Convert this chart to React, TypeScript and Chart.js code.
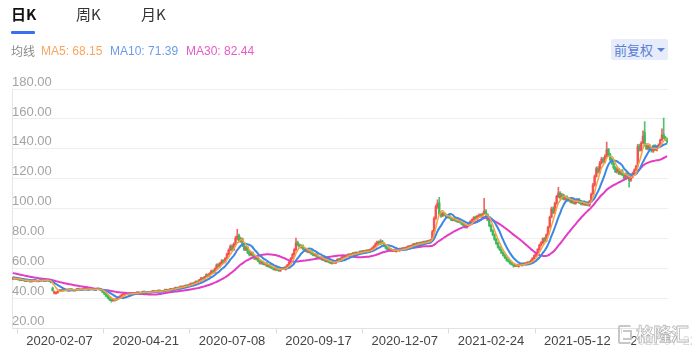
import { useEffect, useRef } from 'react';
import { Chart, registerables } from 'chart.js';

Chart.register(...registerables);

// ---- data ----
const priorCloses = [61.2, 60.6, 60.9, 60.2, 59.8, 60.1, 59.4, 58.8, 59.2, 58.6, 58.1, 58.4, 57.6, 57.2, 57.5, 56.8, 56.3, 56.6, 55.9, 55.4, 55.7, 55.1, 54.6, 54.9, 54.3, 53.8, 54.1, 53.5, 53.2];

const opens = [
  53.0, 53.7, 52.9, 53.3, 52.7, 52.1, 52.9, 52.1, 51.5, 52.5,
  51.8, 51.2, 51.5, 52.5, 52.0, 51.3, 51.9, 52.7, 52.1, 51.7,
  52.5, 52.1, 51.5, 47.0, 43.5, 43.2, 43.9, 44.9, 45.7, 45.1,
  45.9, 45.3, 46.1, 45.5, 46.3, 45.9, 45.1, 45.5, 46.5, 46.1,
  45.5, 46.1, 46.9, 46.5, 45.7, 46.1, 46.7, 46.1, 45.5, 46.1,
  46.7, 46.3, 45.3, 44.3, 43.1, 41.8, 40.6, 39.4, 38.5, 39.5,
  38.9, 39.7, 40.7, 41.5, 42.5, 42.7, 43.3, 42.7, 43.5, 42.9,
  43.7, 43.1, 43.7, 44.3, 43.5, 43.9, 44.7, 44.3, 43.7, 44.5,
  43.9, 44.5, 45.1, 44.3, 44.7, 45.5, 45.1, 44.5, 45.1, 45.9,
  45.3, 45.7, 46.5, 45.9, 46.5, 47.3, 46.7, 47.3, 48.1, 47.5,
  48.1, 48.9, 48.3, 49.1, 50.1, 49.5, 50.5, 51.5, 50.9, 52.3,
  53.7, 52.9, 54.3, 55.9, 55.0, 56.7, 58.5, 57.5, 59.6, 62.6,
  61.5, 63.5, 65.4, 64.2, 66.6, 69.4, 72.2, 75.0, 72.4, 76.2,
  80.0, 82.0, 78.2, 79.8, 75.4, 72.6, 74.2, 70.8, 69.0, 70.6,
  68.8, 66.2, 67.4, 65.2, 63.4, 64.6, 62.6, 63.6, 61.4, 62.4,
  60.9, 60.4, 59.2, 60.8, 59.2, 58.4, 59.6, 60.6, 59.4, 61.0,
  62.2, 64.0, 67.0, 69.2, 72.4, 77.4, 76.0, 74.2, 75.4, 73.2,
  71.6, 72.8, 70.6, 71.6, 69.8, 68.6, 69.6, 67.8, 66.6, 67.6,
  65.6, 66.6, 64.6, 65.6, 64.4, 63.4, 64.6, 63.6, 64.8, 66.4,
  65.4, 66.8, 68.6, 67.4, 68.6, 69.6, 68.4, 69.6, 70.6, 69.4,
  70.9, 70.0, 71.6, 70.4, 72.0, 70.8, 72.4, 71.2, 72.6, 73.4,
  74.6, 76.2, 78.0, 76.4, 78.4, 77.0, 75.4, 73.8, 72.2, 73.2,
  71.6, 72.6, 71.4, 73.0, 71.8, 73.4, 72.4, 74.0, 72.8, 74.0,
  75.2, 74.2, 75.4, 76.6, 75.6, 77.2, 76.0, 77.6, 76.6, 78.2,
  77.2, 78.6, 77.6, 79.4, 85.0, 93.6, 101.4, 104.0, 96.6, 95.2,
  96.9, 95.8, 94.0, 95.0, 93.8, 92.2, 93.4, 92.2, 91.2, 92.4,
  90.6, 89.8, 89.0, 87.4, 88.6, 90.0, 91.8, 92.6, 94.4, 93.2,
  94.8, 96.0, 94.4, 96.6, 98.6, 96.2, 92.6, 88.8, 85.4, 82.8,
  79.6, 77.0, 74.4, 72.8, 70.6, 69.0, 67.4, 65.8, 65.0, 63.6,
  62.6, 61.6, 62.6, 61.4, 63.0, 62.0, 63.6, 62.6, 63.4, 64.4,
  63.6, 65.2, 66.6, 68.4, 70.0, 72.6, 75.8, 77.0, 80.0, 78.4,
  82.6, 87.8, 94.4, 100.0, 97.2, 103.4, 108.0, 110.6, 107.0, 109.2,
  106.2, 108.0, 105.4, 107.0, 104.2, 106.0, 103.4, 104.6, 106.4, 104.2,
  103.0, 104.6, 102.6, 103.8, 102.2, 104.6, 109.8, 115.6, 121.6, 127.0,
  124.4, 130.6, 133.4, 131.4, 134.8, 139.6, 136.0, 133.0, 130.6, 127.4,
  124.6, 126.6, 123.4, 125.4, 122.6, 120.2, 123.4, 121.8, 119.0, 121.2,
  123.4, 126.0, 128.6, 141.8, 139.0, 144.0, 150.8, 142.6, 140.0, 142.0,
  140.2, 138.4, 142.0, 139.2, 141.0, 142.8, 146.0, 149.6, 147.6, 146.4,
];

const closes = [
  53.6, 53.0, 53.4, 52.6, 52.2, 52.8, 52.0, 51.6, 52.4, 51.8,
  51.2, 51.6, 52.4, 52.0, 51.4, 51.8, 52.6, 52.2, 51.8, 52.4,
  52.0, 51.6, 50.8, 45.2, 44.4, 43.8, 44.8, 45.6, 45.2, 45.8,
  45.4, 46.0, 45.6, 46.2, 45.8, 45.2, 45.6, 46.4, 46.0, 45.6,
  46.2, 46.8, 46.4, 45.8, 46.2, 46.6, 46.0, 45.6, 46.2, 46.8,
  46.2, 45.4, 44.2, 43.0, 41.6, 40.4, 39.2, 38.6, 39.4, 38.8,
  39.8, 40.8, 41.6, 42.4, 42.8, 43.2, 42.8, 43.4, 43.0, 43.6,
  43.2, 43.8, 44.2, 43.6, 44.0, 44.6, 44.2, 43.8, 44.4, 44.0,
  44.6, 45.0, 44.4, 44.8, 45.4, 45.0, 44.6, 45.2, 45.8, 45.4,
  45.8, 46.4, 46.0, 46.6, 47.2, 46.8, 47.4, 48.0, 47.6, 48.2,
  48.8, 48.4, 49.2, 50.0, 49.6, 50.6, 51.4, 51.0, 52.4, 53.6,
  53.0, 54.4, 55.8, 55.2, 56.8, 58.4, 57.6, 59.8, 62.4, 61.6,
  63.6, 65.2, 64.4, 66.8, 69.6, 72.4, 74.8, 72.6, 76.4, 80.2,
  81.8, 78.4, 79.6, 75.2, 72.8, 74.0, 70.6, 69.2, 70.4, 68.6,
  66.4, 67.2, 65.0, 63.6, 64.4, 62.8, 63.4, 61.6, 62.2, 60.8,
  60.2, 59.4, 60.6, 59.0, 58.6, 59.8, 60.4, 59.6, 61.2, 62.4,
  64.2, 66.8, 69.4, 72.6, 77.2, 75.8, 74.4, 75.2, 73.0, 71.8,
  72.6, 70.8, 71.4, 69.6, 68.8, 69.4, 67.6, 66.8, 67.4, 65.8,
  66.4, 64.8, 65.4, 64.2, 63.6, 64.4, 63.8, 65.0, 66.2, 65.6,
  67.0, 68.4, 67.6, 68.8, 69.4, 68.6, 69.8, 70.4, 69.6, 70.8,
  70.2, 71.4, 70.6, 71.8, 71.0, 72.2, 71.4, 72.8, 73.6, 74.8,
  76.4, 77.8, 76.6, 78.2, 76.8, 75.2, 73.6, 72.4, 73.0, 71.8,
  72.4, 71.6, 72.8, 72.0, 73.2, 72.6, 73.8, 73.0, 74.2, 75.0,
  74.4, 75.6, 76.4, 75.8, 77.0, 76.2, 77.4, 76.8, 78.0, 77.4,
  78.4, 77.8, 79.2, 84.6, 93.4, 101.2, 103.6, 96.4, 95.0, 96.8,
  95.6, 94.2, 94.8, 93.6, 92.4, 93.2, 92.0, 91.4, 92.2, 90.8,
  89.6, 88.8, 87.6, 88.4, 90.2, 91.6, 92.8, 94.2, 93.4, 95.0,
  95.8, 94.6, 96.4, 98.2, 96.0, 92.4, 88.6, 85.2, 82.6, 79.4,
  76.8, 74.2, 72.6, 70.4, 68.8, 67.2, 65.6, 64.8, 63.4, 62.8,
  61.8, 62.4, 61.6, 62.8, 62.2, 63.4, 62.8, 63.6, 64.2, 63.8,
  65.4, 66.8, 68.6, 70.2, 72.8, 75.6, 77.2, 79.8, 78.6, 82.4,
  87.6, 94.2, 99.8, 97.4, 103.6, 108.2, 110.4, 107.2, 109.0, 106.4,
  107.8, 105.6, 106.8, 104.4, 105.8, 103.6, 104.8, 106.2, 104.0, 103.2,
  104.4, 102.8, 103.6, 102.4, 104.8, 109.6, 115.8, 121.4, 126.8, 124.6,
  130.4, 133.2, 131.6, 135.0, 139.4, 136.2, 132.8, 130.4, 127.2, 124.8,
  126.4, 123.6, 125.2, 122.8, 120.4, 123.2, 121.6, 118.8, 121.4, 123.6,
  125.8, 128.4, 141.6, 139.2, 143.8, 148.6, 142.4, 140.2, 141.8, 139.6,
  138.6, 141.8, 139.4, 141.2, 142.6, 145.8, 149.2, 147.4, 146.2, 144.8,
];

const highs = [
  54.2, 53.9, 53.8, 53.5, 52.9, 53.2, 53.1, 52.3, 52.8, 52.7,
  52.0, 51.9, 52.8, 52.7, 52.2, 52.0, 53.0, 52.9, 52.3, 52.8,
  52.7, 52.3, 51.8, 47.6, 45.0, 44.4, 45.2, 46.0, 46.0, 46.2,
  46.2, 46.4, 46.4, 46.6, 46.6, 46.2, 45.9, 46.8, 46.9, 46.4,
  46.5, 47.2, 47.3, 46.7, 46.5, 47.0, 47.0, 46.4, 46.6, 47.2,
  47.0, 46.6, 45.6, 44.6, 43.4, 42.2, 40.9, 39.8, 39.8, 39.9,
  40.1, 41.2, 42.0, 42.8, 43.2, 43.6, 43.6, 43.7, 43.8, 43.9,
  44.0, 44.1, 44.5, 44.6, 44.3, 44.9, 45.0, 44.6, 44.7, 44.8,
  44.9, 45.4, 45.4, 45.1, 45.8, 45.8, 45.4, 45.5, 46.2, 46.2,
  46.1, 46.8, 46.8, 46.9, 47.6, 47.6, 47.7, 48.4, 48.4, 48.6,
  49.2, 49.2, 49.6, 50.4, 50.4, 51.0, 51.8, 51.8, 52.8, 54.2,
  54.2, 54.8, 56.4, 56.4, 57.3, 59.0, 59.2, 60.4, 63.2, 63.4,
  64.2, 66.0, 66.0, 67.4, 70.4, 73.2, 75.8, 76.0, 77.2, 81.6,
  86.2, 83.0, 80.8, 80.4, 76.0, 74.8, 74.8, 71.6, 71.2, 71.0,
  69.2, 67.8, 67.8, 65.6, 65.0, 65.0, 63.8, 64.0, 62.8, 62.8,
  61.4, 60.8, 61.0, 61.0, 59.6, 60.2, 60.8, 60.9, 61.6, 62.8,
  64.8, 67.4, 70.2, 73.4, 80.4, 78.4, 76.6, 76.0, 75.8, 73.6,
  73.2, 73.2, 72.0, 72.0, 70.2, 69.8, 70.0, 68.2, 67.8, 67.8,
  66.8, 66.8, 65.8, 65.8, 64.8, 64.8, 64.8, 65.4, 66.6, 66.8,
  67.4, 68.8, 69.0, 69.2, 69.8, 70.0, 70.2, 70.8, 71.0, 71.2,
  71.2, 71.8, 72.0, 72.2, 72.4, 72.6, 72.8, 73.2, 74.0, 75.4,
  77.2, 78.4, 78.6, 79.4, 78.8, 77.4, 75.8, 74.2, 73.4, 73.6,
  72.8, 73.0, 73.2, 73.4, 73.6, 73.8, 74.2, 74.4, 74.6, 75.4,
  75.6, 76.0, 76.8, 77.0, 77.4, 77.6, 77.8, 78.0, 78.4, 78.6,
  78.8, 79.0, 79.6, 85.6, 94.6, 102.4, 106.0, 107.6, 98.0, 97.6,
  97.4, 96.4, 95.4, 95.6, 94.4, 93.8, 93.8, 92.8, 92.8, 92.8,
  91.0, 90.2, 89.4, 88.8, 90.6, 92.0, 93.2, 94.8, 95.0, 95.6,
  96.6, 96.6, 97.0, 107.0, 99.4, 96.8, 93.0, 89.4, 86.0, 83.2,
  80.2, 77.6, 75.0, 73.2, 71.2, 69.6, 67.8, 66.2, 65.4, 64.0,
  63.0, 62.8, 63.0, 63.2, 63.4, 63.8, 64.0, 64.0, 64.6, 64.8,
  65.8, 67.4, 69.2, 70.8, 73.4, 76.4, 78.0, 80.6, 80.8, 83.2,
  88.4, 95.0, 101.0, 101.2, 104.4, 109.0, 114.2, 111.4, 110.2, 109.8,
  108.6, 108.6, 107.6, 107.6, 106.6, 106.6, 105.6, 107.0, 107.0, 104.8,
  105.0, 105.2, 104.2, 104.4, 105.6, 110.4, 117.0, 122.6, 128.0, 128.2,
  131.6, 134.4, 134.2, 136.2, 144.6, 140.4, 137.0, 133.8, 131.4, 128.2,
  127.4, 127.2, 126.0, 126.2, 123.2, 124.0, 124.2, 122.4, 122.2, 124.4,
  126.6, 129.2, 143.0, 143.2, 144.8, 152.0, 158.2, 143.6, 142.6, 142.8,
  141.0, 142.6, 142.8, 142.0, 143.4, 146.6, 153.4, 160.6, 148.4, 147.2,
];

const lows = [
  52.6, 52.7, 52.6, 52.2, 51.8, 51.9, 51.7, 51.2, 51.3, 51.5,
  50.8, 50.9, 51.3, 51.8, 51.1, 51.1, 51.7, 51.9, 51.4, 51.5,
  51.7, 51.3, 50.4, 44.8, 43.0, 42.8, 43.5, 44.6, 44.8, 44.9,
  45.0, 45.0, 45.3, 45.2, 45.5, 44.8, 44.8, 45.2, 45.7, 45.2,
  45.2, 45.8, 46.1, 45.5, 45.4, 45.8, 45.7, 45.3, 45.2, 45.8,
  45.9, 45.1, 43.9, 42.6, 41.2, 39.9, 38.6, 37.6, 38.1, 38.2,
  38.6, 39.4, 40.4, 41.2, 42.2, 42.4, 42.5, 42.4, 42.7, 42.6,
  42.9, 42.8, 43.4, 43.3, 43.2, 43.6, 43.9, 43.5, 43.4, 43.7,
  43.6, 44.2, 44.1, 44.0, 44.4, 44.7, 44.3, 44.2, 44.8, 45.1,
  45.0, 45.4, 45.7, 45.6, 46.2, 46.5, 46.4, 47.0, 47.3, 47.2,
  47.8, 48.1, 48.0, 48.8, 49.3, 49.2, 50.2, 50.7, 50.6, 52.0,
  52.6, 52.6, 54.0, 54.7, 54.7, 56.4, 57.2, 57.1, 59.2, 61.0,
  61.0, 63.0, 63.8, 63.8, 66.2, 69.0, 71.8, 72.0, 72.0, 75.8,
  79.2, 77.6, 77.4, 74.6, 72.0, 72.0, 70.0, 68.4, 68.4, 68.0,
  66.0, 65.8, 64.6, 63.0, 63.0, 62.4, 62.2, 61.2, 61.0, 60.4,
  59.8, 59.0, 58.8, 58.6, 58.0, 58.1, 59.2, 59.2, 59.0, 60.6,
  61.8, 63.6, 66.4, 68.8, 72.0, 75.2, 73.8, 73.6, 72.6, 71.2,
  71.0, 70.4, 70.2, 69.2, 68.4, 68.2, 67.2, 66.4, 66.2, 65.4,
  65.2, 64.4, 64.2, 63.8, 63.2, 63.0, 63.4, 63.2, 64.4, 65.2,
  65.0, 66.4, 67.2, 67.0, 68.2, 68.2, 68.0, 69.2, 69.2, 69.0,
  69.8, 69.6, 70.2, 70.0, 70.6, 70.4, 71.0, 70.8, 72.2, 73.0,
  74.2, 75.8, 76.2, 76.0, 76.4, 74.8, 73.2, 72.0, 71.8, 71.4,
  71.2, 71.2, 71.0, 71.6, 71.4, 72.2, 72.0, 72.6, 72.4, 73.6,
  74.0, 73.8, 75.0, 75.4, 75.2, 75.8, 75.6, 76.4, 76.2, 77.0,
  76.8, 77.4, 77.2, 79.0, 84.4, 92.8, 100.2, 95.6, 94.2, 94.6,
  95.2, 93.8, 93.6, 93.2, 92.0, 91.8, 91.6, 91.0, 90.8, 90.4,
  89.2, 88.4, 87.0, 87.0, 88.2, 89.6, 91.4, 92.2, 93.0, 92.8,
  94.4, 94.2, 94.0, 96.0, 95.6, 92.0, 88.0, 84.6, 82.0, 78.8,
  76.2, 73.6, 72.0, 70.0, 68.2, 66.6, 65.0, 64.2, 62.8, 62.2,
  61.0, 61.2, 61.2, 61.0, 61.8, 61.6, 62.4, 62.2, 63.0, 63.4,
  63.2, 64.8, 66.2, 68.0, 69.6, 72.2, 75.2, 76.6, 78.0, 78.0,
  82.0, 87.2, 93.8, 96.6, 96.6, 102.8, 107.4, 106.4, 106.4, 105.8,
  105.6, 105.0, 104.8, 103.8, 103.6, 103.0, 102.8, 104.0, 103.4, 102.6,
  102.4, 102.2, 102.0, 101.8, 101.6, 104.0, 109.2, 115.0, 121.0, 123.8,
  123.8, 129.8, 130.8, 130.6, 134.0, 135.4, 132.0, 129.6, 126.4, 124.0,
  123.8, 122.8, 122.6, 122.0, 119.6, 119.4, 120.8, 114.4, 118.2, 120.6,
  122.8, 125.4, 128.0, 138.4, 138.4, 143.4, 141.6, 139.4, 139.2, 138.8,
  137.8, 137.6, 138.8, 138.6, 140.4, 142.2, 145.4, 146.6, 145.4, 144.0,
];

const xLabels = ['2020-02-07', '2020-04-21', '2020-07-08', '2020-09-17', '2020-12-07', '2021-02-24', '2021-05-12', '2021-07-22'];
const xLabelIndex = [27, 77, 127, 177, 227, 277, 327, 377];
const xTickIndex = [3, 53, 103, 153, 203, 253, 303, 353];

const yMin = 20;
const yMax = 180;
const yStep = 20;

const maPeriods = [5, 10, 30];
const maNames = ['MA5', 'MA10', 'MA30'];
const maLegendValues = ['68.15', '71.39', '82.44'];
const maLineColors = ['#f6a23f', '#3b87e6', '#e33cc3'];
const maTextColors = ['#f7a560', '#6c9bea', '#e35bc6'];
const maLineWidths = [1.5, 2, 2];

const tabs = ['日K', '周K', '月K'];

const UP = 'rgba(242,78,78,0.88)';
const DOWN = 'rgba(56,184,92,0.88)';

function movingAverage(period: number): number[] {
  const all = priorCloses.concat(closes);
  const off = priorCloses.length;
  return closes.map((_, i) => {
    let s = 0;
    for (let k = 0; k < period; k++) s += all[off + i - k];
    return s / period;
  });
}

const FONT = "'Liberation Sans', Arial, sans-serif";
const CJK = "'Noto Sans CJK SC', 'Liberation Sans', sans-serif";

export default function App() {
  const ref = useRef<HTMLCanvasElement | null>(null);

  useEffect(() => {
    if (!ref.current) return;
    const labels = closes.map((_, i) => String(i));
    const colors = closes.map((c, i) => (c >= opens[i] ? UP : DOWN));
    const labelMap = new Map<number, string>();
    xLabelIndex.forEach((idx, k) => labelMap.set(idx, xLabels[k]));
    const tickSet = new Set<number>(xTickIndex);

    const lineSets = maPeriods.map((p, k) => ({
      type: 'line' as const,
      label: maNames[k],
      data: movingAverage(p),
      borderColor: maLineColors[k],
      borderWidth: maLineWidths[k],
      pointRadius: 0,
      tension: 0.3,
      order: k,
    }));

    const chart = new Chart(ref.current, {
      type: 'bar',
      data: {
        labels,
        datasets: [
          ...lineSets,
          {
            type: 'bar',
            label: 'body',
            data: opens.map((o, i) => [o, closes[i]]) as any,
            backgroundColor: colors,
            barThickness: 1.8,
            grouped: false,
            borderWidth: 0,
            minBarLength: 1,
            order: 3,
          },
          {
            type: 'bar',
            label: 'wick',
            data: lows.map((l, i) => [l, highs[i]]) as any,
            backgroundColor: colors,
            barThickness: 1,
            grouped: false,
            borderWidth: 0,
            order: 4,
          },
        ] as any,
      },
      options: {
        animation: false,
        responsive: false,
        devicePixelRatio: 1,
        layout: { padding: { top: 89, right: 24, left: 12, bottom: 2 } },
        plugins: { legend: { display: false }, tooltip: { enabled: false } },
        scales: {
          x: {
            type: 'category',
            offset: true,
            grid: {
              offset: true,
              drawOnChartArea: false,
              drawTicks: true,
              tickLength: 5,
              color: (ctx: any) => (tickSet.has(ctx.index) ? '#dcdcdc' : 'rgba(0,0,0,0)'),
            },
            border: { display: true, color: '#e2e2e2' },
            ticks: {
              autoSkip: false,
              maxRotation: 0,
              minRotation: 0,
              padding: 0,
              color: '#444',
              font: { size: 13, family: FONT },
              callback: (_v: any, i: number) => labelMap.get(i) ?? '',
            },
          },
          y: {
            min: yMin,
            max: yMax,
            grid: { color: '#eeeeee', drawTicks: false },
            border: { display: true, color: '#e6e6e6' },
            ticks: {
              stepSize: yStep,
              mirror: true,
              padding: 0,
              labelOffset: -7,
              color: '#a3a3a3',
              font: { size: 13, family: FONT },
              callback: (v: any) => Number(v).toFixed(2),
            },
          },
        },
      },
    });
    return () => chart.destroy();
  }, []);

  return (
    <div style={{ position: 'absolute', left: 0, top: 0, width: 692, height: 351, background: '#fff', overflow: 'hidden' }}>
      <canvas ref={ref} width={692} height={351} style={{ position: 'absolute', left: 0, top: 0, width: 692, height: 351 }} />
      {tabs.map((t, i) => (
        <div
          key={t}
          style={{
            position: 'absolute',
            left: 11 + i * 65,
            top: 5,
            fontFamily: CJK,
            fontSize: 15,
            lineHeight: '18px',
            fontWeight: i === 0 ? 700 : 400,
            color: i === 0 ? '#111' : '#333',
            whiteSpace: 'nowrap',
          }}
        >
          {t}
        </div>
      ))}
      <div style={{ position: 'absolute', left: 11, top: 31, width: 24, height: 3, background: '#3b6ef0', borderRadius: 1 }} />
      <div style={{ position: 'absolute', left: 11, top: 43, fontFamily: CJK, fontSize: 12, lineHeight: '16px', color: '#8a8a8a' }}>均线</div>
      {maNames.map((m, k) => (
        <div
          key={m}
          style={{
            position: 'absolute',
            left: [41, 110, 186][k],
            top: 43,
            fontFamily: FONT,
            fontSize: 12,
            lineHeight: '16px',
            color: maTextColors[k],
            whiteSpace: 'nowrap',
          }}
        >
          {m}: {maLegendValues[k]}
        </div>
      ))}
      <div
        style={{
          position: 'absolute',
          left: 611,
          top: 39,
          width: 57,
          height: 21,
          background: '#e6ecf9',
          borderRadius: 2,
        }}
      >
        <span style={{ position: 'absolute', left: 3, top: 2, fontFamily: CJK, fontSize: 13, lineHeight: '17px', color: '#5b7ed8', whiteSpace: 'nowrap' }}>前复权</span>
        <span
          style={{
            position: 'absolute',
            left: 46,
            top: 9,
            width: 0,
            height: 0,
            borderLeft: '4px solid transparent',
            borderRight: '4px solid transparent',
            borderTop: '4px solid #5b7ed8',
          }}
        />
      </div>
      <div style={{ position: 'absolute', left: 636, top: 324, width: 56, height: 22, background: 'rgba(255,255,255,0.8)' }} />
      <div style={{ position: 'absolute', left: 618, top: 322, width: 74, height: 24, pointerEvents: 'none' }}>
        <div style={{ position: 'absolute', left: 0, top: 3, width: 11, height: 15, border: '2px solid rgba(190,190,190,0.85)', borderRight: 'none', borderRadius: 2 }} />
        <div style={{ position: 'absolute', left: 5, top: 8, width: 7, height: 6, border: '2px solid rgba(190,190,190,0.85)', borderLeft: 'none' }} />
        <span
          style={{
            position: 'absolute',
            left: 18,
            top: 0,
            fontFamily: CJK,
            fontSize: 18,
            lineHeight: '22px',
            fontWeight: 700,
            color: 'rgba(255,255,255,0.9)',
            WebkitTextStroke: '0.8px rgba(175,175,175,0.9)',
            whiteSpace: 'nowrap',
            letterSpacing: -0.5,
          }}
        >
          格隆汇
        </span>
      </div>
    </div>
  );
}
